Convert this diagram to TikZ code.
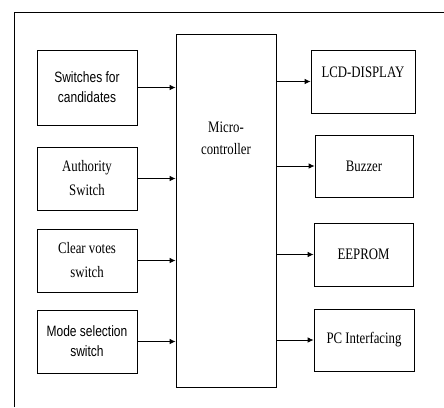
\documentclass[tikz,border=0pt]{standalone}
\usepackage{fontspec}
\setmainfont{Liberation Serif}[FakeStretch=0.8]
\setsansfont{Liberation Sans}[FakeStretch=0.8]
\usetikzlibrary{arrows.meta}

\begin{document}
\begin{tikzpicture}[x=1pt,y=-1pt,
  blk/.style={draw,line width=0.8pt,inner sep=2pt,align=center,font=\fontsize{16}{22}\selectfont},
  sblk/.style={blk,font=\sffamily\fontsize{15}{20}\selectfont},
  arr/.style={line width=0.8pt,-{Latex[length=6pt,width=5.5pt]}}]
  \useasboundingbox (0,0) rectangle (444,407);
  \draw[line width=0.8pt] (14,407) -- (14,12) -- (444,12);

  % inputs
  \node[sblk,minimum width=100pt,minimum height=75pt] (cand) at (87,87.5) {Switches for\\candidates};
  \node[blk,minimum width=100pt,minimum height=63pt,font=\fontsize{16}{24}\selectfont] (auth) at (87,178.5) {Authority\\Switch};
  \node[blk,minimum width=100pt,minimum height=63pt,font=\fontsize{16}{24}\selectfont] (clr) at (87,260.5) {Clear votes\\switch};
  \node[sblk,minimum width=100pt,minimum height=63pt] (mode) at (87,341.5) {Mode selection\\switch};

  \node[blk,minimum width=100pt,minimum height=353pt,text depth=144pt] (mcu) at (226,210.5) {Micro-\\controller};

  % outputs
  \node[blk,minimum width=104pt,minimum height=63pt,text depth=19pt] (lcd) at (363,81.5) {LCD-DISPLAY};
  \node[blk,minimum width=98pt,minimum height=62pt] (buzz) at (364,166) {Buzzer};
  \node[blk,minimum width=99pt,minimum height=63pt] (eeprom) at (363.5,254.5) {EEPROM};
  \node[blk,minimum width=100pt,minimum height=62pt] (pc) at (364,340) {PC Interfacing};

  \foreach \n in {cand,auth,clr,mode}
    \draw[arr] (\n.east) -- (\n.east -| mcu.west);
  \foreach \n in {lcd,buzz,eeprom,pc}
    \draw[arr] (mcu.east |- \n.west) -- (\n.west);
\end{tikzpicture}
\end{document}
